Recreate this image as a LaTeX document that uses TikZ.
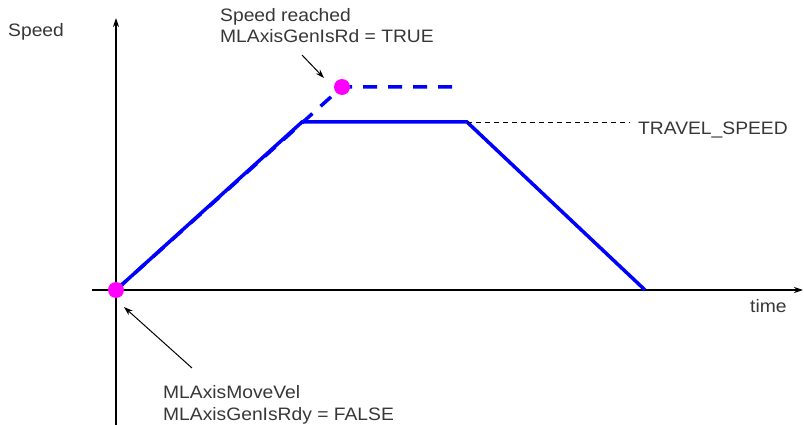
\documentclass[tikz,border=0pt]{standalone}
\usepackage{fontspec}
\setmainfont[FakeStretch=1.07]{Liberation Sans}
\usetikzlibrary{arrows.meta}
\definecolor{pureblue}{RGB}{0,0,255}
\definecolor{dotmag}{RGB}{255,0,255}
\definecolor{txt}{RGB}{55,55,55}
\tikzset{
  lbl/.style={inner sep=0pt, anchor=base west, text=txt, font=\fontsize{18}{22}\selectfont},
  axisline/.style={line width=1.2pt, -{Stealth[length=9pt,width=6pt]}},
  profile/.style={pureblue, line width=3.5pt, line join=miter},
  profdash/.style={pureblue, line width=3.5pt, dash pattern=on 14pt off 11pt},
  refline/.style={black, line width=0.8pt, dash pattern=on 5pt off 4pt},
  pointer/.style={black, line width=1pt, -{Stealth[length=9pt,width=6pt]}},
  dot/.style={circle, fill=dotmag, minimum size=16pt, inner sep=0pt}
}
\begin{document}
\begin{tikzpicture}[x=1pt,y=-1pt]
\useasboundingbox (0,0) rectangle (804,425);
% axes
\coordinate (ybot) at (116,425);
\coordinate (ytop) at (116,18);
\coordinate (xl) at (92,290);
\coordinate (xr) at (803,290);
\draw[axisline] (ybot) -- (ytop);
\draw[axisline] (xl) -- (xr);
% profile points
\coordinate (O) at (116,290);
\coordinate (A) at (302,122);
\coordinate (B) at (467,122);
\coordinate (C) at (645,290);
\coordinate (R) at (342,87);
\coordinate (Rend) at (458,87);
\coordinate (Tend) at (630,122);
% dashed speed-reached path
\draw[profdash] (O) -- (R) -- (Rend);
% trapezoid
\draw[profile] (O) -- (A) -- (B) -- (C);
% travel speed reference
\draw[refline] (B) -- (Tend);
% labels
\node[lbl] (speed) at (8,37) {Speed};
\node[lbl] (time) at (750,312) {time};
\node[lbl] (travel) at (638,135) {TRAVEL\_SPEED};
\node[lbl] (reached1) at (220,22) {Speed reached};
\node[lbl] (reached2) at (220,43) {MLAxisGenIsRd = TRUE};
\node[lbl] (move1) at (163,398) {MLAxisMoveVel};
\node[lbl] (move2) at (163,420) {MLAxisGenIsRdy = FALSE};
% dots
\node[dot] (dotR) at (R) {};
\node[dot] (dotO) at (O) {};
% pointers
\coordinate (p1s) at (302,55);
\coordinate (p1e) at (324,78);
\coordinate (p2s) at (192,368);
\coordinate (p2e) at (124,307);
\draw[pointer] (p1s) -- (p1e);
\draw[pointer] (p2s) -- (p2e);
\end{tikzpicture}
\end{document}
